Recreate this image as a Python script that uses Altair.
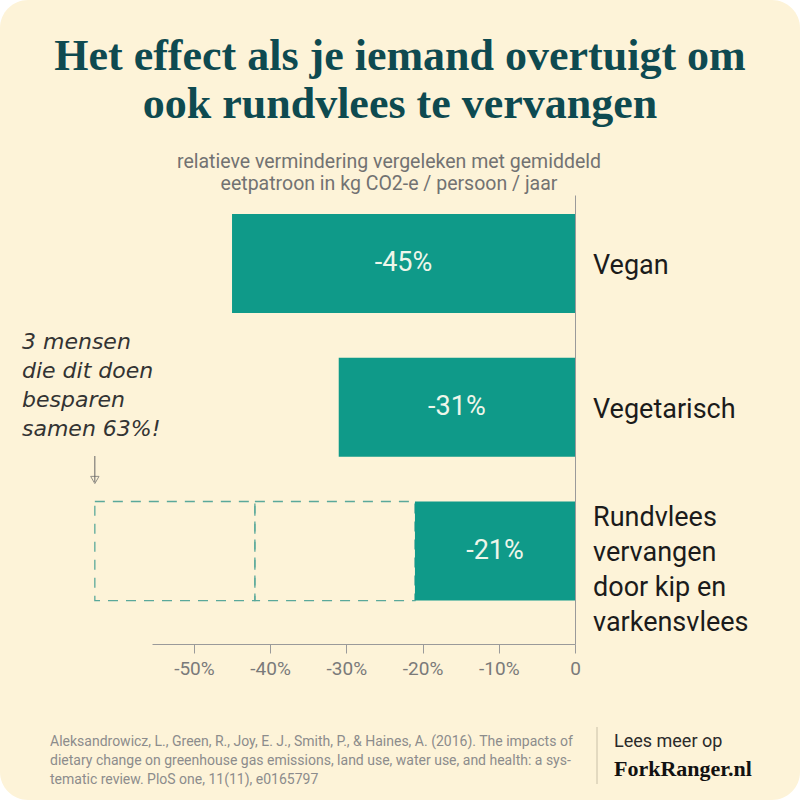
import altair as alt
import pandas as pd

# ---- data ----
categories = ["Vegan", "Vegetarisch", "Rundvlees"]
category_labels = ["Vegan", "Vegetarisch", "Rundvlees\nvervangen\ndoor kip en\nvarkensvlees"]
values = [-45, -31, -21]
value_labels = ["-45%", "-31%", "-21%"]

ghost_start = [-63, -42]
ghost_end = [-42, -21]
ghost_cat = ["Rundvlees", "Rundvlees"]

tick_values = [-50, -40, -30, -20, -10, 0]

title_text = "Het effect als je iemand overtuigt om\nook rundvlees te vervangen"
subtitle_text = "relatieve vermindering vergeleken met gemiddeld\neetpatroon in kg CO2-e / persoon / jaar"
note_text = "3 mensen\ndie dit doen\nbesparen\nsamen 63%!"
source_text = ("Aleksandrowicz, L., Green, R., Joy, E. J., Smith, P., & Haines, A. (2016). The impacts of\n"
               "dietary change on greenhouse gas emissions, land use, water use, and health: a sys-\n"
               "tematic review. PloS one, 11(11), e0165797")
more_text = "Lees meer op"
site_text = "ForkRanger.nl"

# ---- styles ----
TEAL = "#0f9a89"
DARK = "#0e4a50"
CREAM = "#fdf3d8"
GREY = "#7a7a7a"

PL, PT = 152, 195
W, H = 423, 449

df = pd.DataFrame({"cat": categories, "label": category_labels,
                   "value": values, "vlabel": value_labels})
ghost = pd.DataFrame({"start": ghost_start, "end": ghost_end, "cat": ghost_cat})

xscale = alt.Scale(domain=[-55.5, 0], nice=False, zero=False)
yscale = alt.Scale(domain=categories, paddingInner=0.311, paddingOuter=0.217, align=0.304)

base = alt.Chart(df)

card = alt.Chart(pd.DataFrame({"k": [0]})).mark_rect(
    fill=CREAM, cornerRadius=28
).encode(
    x=alt.value(-PL), x2=alt.value(800 - PL), y=alt.value(-PT), y2=alt.value(800 - PT)
)

bars = base.mark_bar(color=TEAL).encode(
    x=alt.X("value:Q", scale=xscale,
            axis=alt.Axis(values=tick_values, title=None, grid=False, zindex=1,
                          labelExpr="datum.value == 0 ? '0' : datum.value + '%'",
                          labelFont="Roboto", labelFontSize=19, labelColor=GREY,
                          labelPadding=6, tickSize=9, tickColor="#9a9a9a",
                          domainColor="#9a9a9a", labelFlush=False)),
    x2=alt.datum(0),
    y=alt.Y("cat:N", scale=yscale, sort=categories,
            axis=alt.Axis(orient="right", labels=False, ticks=False, title=None,
                          domainColor="#9a9a9a", grid=False, zindex=1)),
)

ghosts = alt.Chart(ghost).mark_rect(
    fillOpacity=0, stroke="#5aa89a", strokeWidth=1.3, strokeDash=[10, 8]
).encode(
    x=alt.X("start:Q", scale=xscale), x2="end:Q",
    y=alt.Y("cat:N", scale=yscale, sort=categories),
)

vlabels = base.transform_calculate(mid="datum.value / 2").mark_text(
    font="Roboto", fontSize=27, color="#eef6ea", baseline="middle", align="center"
).encode(
    x=alt.X("mid:Q", scale=xscale),
    y=alt.Y("cat:N", scale=yscale, sort=categories),
    text="vlabel:N",
)

catlab_single = base.transform_filter("datum.cat != 'Rundvlees'").mark_text(
    font="Roboto", fontSize=27, color="#1b1b1b", align="left", baseline="middle", dx=18, dy=3
).encode(
    x=alt.datum(0), y=alt.Y("cat:N", scale=yscale, sort=categories), text="label:N"
)
catlab_multi = base.transform_filter("datum.cat == 'Rundvlees'").mark_text(
    font="Roboto", fontSize=27, color="#1b1b1b", align="left", baseline="middle",
    dx=18, dy=-33, lineBreak="\n", lineHeight=35
).encode(
    x=alt.datum(0), y=alt.Y("cat:N", scale=yscale, sort=categories), text="label:N"
)

arrow_df = pd.DataFrame({"x": [-63]})
arrow_line = alt.Chart(arrow_df).mark_rule(color="#666", strokeWidth=1).encode(
    x=alt.X("x:Q", scale=xscale), y=alt.value(261), y2=alt.value(287)
)
arrow_head = alt.Chart(arrow_df).mark_point(
    shape="triangle-down", filled=False, color="#666", size=70, strokeWidth=1
).encode(x=alt.X("x:Q", scale=xscale), y=alt.value(285))


def txt(text, x, y, **kw):
    return alt.Chart(pd.DataFrame({"t": [text]})).mark_text(
        lineBreak="\n", **kw
    ).encode(x=alt.value(x), y=alt.value(y), text="t:N")


title = txt(title_text, 400 - PL, 70 - PT, font="Liberation Serif", fontWeight="bold",
            fontSize=44, color=DARK, align="center", baseline="alphabetic", lineHeight=48)
subtitle = txt(subtitle_text, 389 - PL, 168 - PT, font="Roboto", fontSize=19.5,
               color="#727272", align="center", baseline="alphabetic", lineHeight=22)
note = txt(note_text, 22 - PL, 349 - PT, font="DejaVu Sans", fontStyle="italic",
           fontSize=22, color="#333333", align="left", baseline="alphabetic", lineHeight=29)
source = txt(source_text, 50 - PL, 746 - PT, font="Roboto", fontSize=14,
             color="#8c8c8c", align="left", baseline="alphabetic", lineHeight=19)
more = txt(more_text, 614 - PL, 747 - PT, font="Roboto", fontSize=18,
           color="#2a2a2a", align="left", baseline="alphabetic")
site = txt(site_text, 614 - PL, 776 - PT, font="Liberation Serif", fontWeight="bold",
           fontSize=22, color="#111111", align="left", baseline="alphabetic")
sep = alt.Chart(pd.DataFrame({"k": [0]})).mark_rule(color="#c9c0a8", strokeWidth=1).encode(
    x=alt.value(597 - PL), y=alt.value(727 - PT), y2=alt.value(784 - PT)
)

chart = alt.layer(
    card, ghosts, bars, vlabels, catlab_single, catlab_multi,
    arrow_line, arrow_head, title, subtitle, note, source, more, site, sep
).properties(
    width=W, height=H,
    autosize=alt.AutoSizeParams(type="none"),
    padding={"left": PL, "top": PT, "right": 800 - PL - W, "bottom": 800 - PT - H},
    background="#ffffff",
).configure_view(stroke=None)

chart.save("out.html", embed_options={"renderer": "svg", "actions": False})
